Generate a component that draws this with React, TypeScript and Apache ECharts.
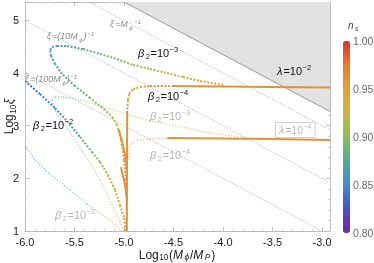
import React, { useEffect, useRef } from "react";
import * as echarts from "echarts";

const FONT = '"Liberation Sans", Arial, Helvetica, sans-serif';

// axes
const xMin = -6;
const xMax = -2.92;
const yMin = 1;
const yMax = 5.35;
const nsMin = 0.8;
const nsMax = 1.0;
const nsTickLabels = ["1.00", "0.95", "0.90", "0.85", "0.80"];
const nsColors = ["#782b8f", "#4750c8", "#4689c6", "#55aa9c", "#8cbd5c", "#c4b946", "#dea43c", "#e67b34", "#d9302b"];

// curves: [log10(Mφ/MP), log10 ξ, n_s]
// λ = 10^-2 family
const beta3Lam2 = [
  [-4.97, 1.684, 0.963], [-4.98, 1.969, 0.96], [-5.0, 2.349, 0.955], [-5.03, 2.728, 0.945],
  [-5.071, 3.013, 0.932], [-5.111, 3.146, 0.915], [-5.192, 3.298, 0.9], [-5.343, 3.526, 0.89],
  [-5.495, 3.754, 0.88], [-5.626, 3.982, 0.872], [-5.697, 4.172, 0.865], [-5.737, 4.324, 0.86],
  [-5.747, 4.438, 0.857], [-5.727, 4.495, 0.858], [-5.677, 4.514, 0.861], [-5.576, 4.514, 0.866],
  [-5.414, 4.457, 0.875], [-5.242, 4.362, 0.886], [-5.071, 4.267, 0.897], [-4.909, 4.153, 0.907],
  [-4.737, 4.077, 0.917], [-4.566, 4.001, 0.928], [-4.404, 3.925, 0.94], [-4.232, 3.849, 0.95],
  [-4.0, 3.773, 0.957],
];
const beta4Lam2 = [
  [-4.97, 3.241, 0.958], [-4.96, 3.488, 0.958], [-4.949, 3.602, 0.957], [-4.909, 3.697, 0.956],
  [-4.838, 3.735, 0.956], [-4.737, 3.754, 0.955], [-4.505, 3.754, 0.957],
];
const beta2Lam2 = [
  [-6.0, 3.849, 0.838], [-5.848, 3.602, 0.845], [-5.697, 3.336, 0.855], [-5.576, 3.089, 0.866],
  [-5.444, 2.785, 0.878], [-5.323, 2.5, 0.892], [-5.242, 2.311, 0.902], [-5.162, 2.064, 0.913],
  [-5.091, 1.779, 0.928], [-5.04, 1.494, 0.943], [-5.0, 1.247, 0.953], [-4.98, 1.0, 0.96],
];
const plateauLam2 = [
  [-4.505, 3.754, 0.958], [-4.0, 3.745, 0.96], [-3.525, 3.735, 0.961], [-2.919, 3.726, 0.962],
];
// λ = 10^-4 family
const beta3Lam4 = [
  [-5.0, 1.0, 0.96], [-5.04, 1.171, 0.95], [-5.121, 1.494, 0.935], [-5.242, 1.969, 0.92],
  [-5.394, 2.443, 0.9], [-5.545, 2.88, 0.885], [-5.626, 3.07, 0.875], [-5.697, 3.298, 0.87],
  [-5.727, 3.488, 0.865], [-5.697, 3.545, 0.868], [-5.616, 3.545, 0.872], [-5.444, 3.488, 0.885],
  [-5.242, 3.374, 0.9], [-5.04, 3.26, 0.91], [-4.838, 3.146, 0.92], [-4.636, 3.051, 0.93],
  [-4.364, 2.956, 0.94], [-4.131, 2.861, 0.95], [-3.828, 2.785, 0.957], [-3.525, 2.747, 0.96],
];
const beta2Lam4 = [
  [-6.0, 2.614, 0.84], [-5.899, 2.349, 0.845], [-5.747, 2.083, 0.855], [-5.545, 1.779, 0.87],
  [-5.374, 1.513, 0.885], [-5.242, 1.342, 0.9], [-5.121, 1.171, 0.92], [-5.02, 1.0, 0.94],
];
const beta4Lam4 = [
  [-4.949, 2.349, 0.955], [-4.949, 2.576, 0.955], [-4.929, 2.671, 0.955], [-4.869, 2.719, 0.956],
  [-4.737, 2.747, 0.957], [-4.556, 2.766, 0.958],
];
const plateauLam4 = [
  [-4.556, 2.766, 0.958], [-4.0, 2.757, 0.96], [-3.525, 2.747, 0.961], [-2.919, 2.728, 0.962],
];
const stemMain = [[-4.968, 3.26, 0.96], [-4.97, 2.3, 0.961], [-4.972, 1.0, 0.962]];
const stemBranchA = [[-5.051, 2.918, 0.958], [-5.01, 2.633, 0.959], [-4.98, 2.349, 0.96], [-4.97, 2.064, 0.961]];
const stemBranchB = [[-5.03, 2.197, 0.958], [-4.99, 1.874, 0.96], [-4.97, 1.589, 0.961]];

// ξ = 10^k / Mφ reference lines
const xiM = [[-5.35, 5.35], [-2.92, 2.92]];
const xi10M = [[-6, 5], [-2.92, 1.92]];
const xi100M = [[-6, 4], [-3, 1]];
// λ = 10^-2 excluded-region boundary
const lambdaBoundary = [[-5.0, 5.35], [-2.92, 3.27]];

function toSegments(curve: number[][]) {
  const out: number[][] = [];
  for (let i = 0; i < curve.length - 1; i++) {
    const a = curve[i];
    const b = curve[i + 1];
    out.push([a[0], a[1], b[0], b[1], (a[2] + b[2]) / 2]);
  }
  return out;
}

function curveSeries(curves: number[][][], width: number, dash: number[] | null, opacity: number, z: number) {
  const data: number[][] = [];
  curves.forEach((c) => toSegments(c).forEach((s) => data.push(s)));
  return {
    type: "custom",
    coordinateSystem: "cartesian2d",
    dimensions: ["x1", "y1", "x2", "y2", "ns"],
    encode: { x: [0, 2], y: [1, 3] },
    data,
    clip: true,
    silent: true,
    z,
    renderItem: (_p: any, api: any) => {
      const p1 = api.coord([api.value(0), api.value(1)]);
      const p2 = api.coord([api.value(2), api.value(3)]);
      return {
        type: "line",
        shape: { x1: p1[0], y1: p1[1], x2: p2[0], y2: p2[1] },
        style: {
          stroke: api.visual("color"),
          lineWidth: width,
          lineDash: dash || undefined,
          opacity,
          lineCap: dash ? "butt" : "round",
        },
      };
    },
  };
}

function refLine(data: number[][]) {
  return {
    type: "line",
    data,
    symbol: "none",
    silent: true,
    z: 2,
    lineStyle: { color: "#ababab", width: 0.8, type: [1.5, 1.5] },
  };
}

function richStyles(size: number, fill: string, italicAll = false, lhFactor = 1.35) {
  const lh = Math.round(size * lhFactor);
  const small = Math.round(size * 0.68 * 10) / 10;
  const st = italicAll ? "italic" : "normal";
  return {
    n: { fontSize: size, fontFamily: FONT, fill, color: fill, fontStyle: st, lineHeight: lh },
    i: { fontSize: size, fontFamily: FONT, fill, color: fill, fontStyle: "italic", lineHeight: lh, padding: [0, 1, 0, 0] },
    sb: { fontSize: small, fontFamily: FONT, fill, color: fill, fontStyle: st, lineHeight: small + 1, verticalAlign: "bottom", padding: [0, 0.5, 0, 0.5] },
    sbi: { fontSize: small, fontFamily: FONT, fill, color: fill, fontStyle: "italic", lineHeight: small + 1, verticalAlign: "bottom", padding: [0, 1, 0, 0.5] },
    sp: { fontSize: small, fontFamily: FONT, fill, color: fill, fontStyle: st, lineHeight: small + 1, verticalAlign: "top", padding: [0, 0, 0, 0.5] },
  };
}

function txt(text: string, x: number, y: number, size: number, fill: string, italicAll = false, extra: any = {}, align = "left", rotation = 0, lhFactor = 1.35) {
  return {
    type: "text",
    x,
    y,
    rotation,
    z: 100,
    silent: true,
    style: {
      text,
      fill,
      fontSize: size,
      fontFamily: FONT,
      lineHeight: Math.round(size * lhFactor),
      align,
      verticalAlign: "middle",
      textAlign: align,
      textVerticalAlign: "middle",
      rich: richStyles(size, fill, italicAll, lhFactor),
      ...extra,
    },
  };
}

const beta = (e: string) => `{i|β}{sb|2}{n|=10}{sp|−${e}}`;

export default function App() {
  const ref = useRef<HTMLDivElement>(null);
  useEffect(() => {
    if (!ref.current) return;
    const chart = echarts.init(ref.current, null, { renderer: "svg" });
    const frame = "#bdbdbd";
    const xLabel = (v: number) => (Math.abs(v * 2 - Math.round(v * 2)) < 1e-6 && v <= -3 + 1e-9 ? v.toFixed(1) : "");
    const yLabel = (v: number) => (Math.abs(v - Math.round(v)) < 1e-6 && v <= 5 ? String(Math.round(v)) : "");
    const baseX = {
      type: "value",
      min: xMin,
      max: xMax,
      interval: 0.5,
      axisLine: { show: true, lineStyle: { color: frame, width: 1 } },
      axisTick: { show: true, inside: true, length: 4, lineStyle: { color: frame } },
      minorTick: { show: true, splitNumber: 5, length: 2, lineStyle: { color: "#cfcfcf" } },
      splitLine: { show: false },
    };
    const baseY = {
      type: "value",
      min: yMin,
      max: yMax,
      interval: 1,
      axisLine: { show: true, lineStyle: { color: frame, width: 1 } },
      axisTick: { show: true, inside: true, length: 4, lineStyle: { color: frame } },
      minorTick: { show: true, splitNumber: 5, length: 2, lineStyle: { color: "#cfcfcf" } },
      splitLine: { show: false },
    };
    const option: any = {
      animation: false,
      grid: { left: 25, right: 44, top: 2, bottom: 32, containLabel: false },
      xAxis: [
        {
          ...baseX,
          position: "bottom",
          axisLabel: { formatter: xLabel, color: "#222", fontSize: 11, lineHeight: 12, fontFamily: FONT, margin: 5 },
        },
        { ...baseX, position: "top", axisLabel: { show: false } },
      ],
      yAxis: [
        {
          ...baseY,
          position: "left",
          axisLabel: { formatter: yLabel, color: "#222", fontSize: 11, lineHeight: 11, fontFamily: FONT, margin: 6 },
        },
        { ...baseY, position: "right", axisLabel: { show: false } },
      ],
      visualMap: {
        type: "continuous",
        min: nsMin,
        max: nsMax,
        dimension: 4,
        seriesIndex: [4, 5, 6],
        inRange: { color: nsColors },
        calculable: false,
        show: true,
        orient: "vertical",
        left: 343,
        top: 41,
        padding: 0,
        itemWidth: 7,
        itemHeight: 192,
        text: null,
        hoverLink: false,
      },
      series: [
        {
          type: "line",
          data: lambdaBoundary,
          symbol: "none",
          silent: true,
          z: 1,
          lineStyle: { color: "#9a9a9a", width: 1 },
          areaStyle: { color: "#e2e2e2", opacity: 1, origin: "end" },
        },
        refLine(xiM),
        refLine(xi10M),
        refLine(xi100M),
        curveSeries([beta3Lam4, beta2Lam4, beta4Lam4], 1.4, [1.3, 1.7], 0.55, 3),
        curveSeries([beta3Lam2, beta2Lam2, beta4Lam2], 2, [2, 1.6], 1, 4),
        curveSeries([plateauLam2, plateauLam4, stemMain, stemBranchA, stemBranchB], 2, null, 1, 5),
      ],
      graphic: [
        txt("{i|ξ}{n|=}{i|M}{sbi|ϕ}{sp|−1}", 110, 24, 9, "#8c8c8c", true),
        txt("{i|ξ}{n|=(10}{i|M}{sbi|ϕ}{n|)}{sp|−1}", 47, 36, 9, "#8c8c8c", true),
        txt("{i|ξ}{n|=(100}{i|M}{sbi|ϕ}{n|)}{sp|−1}", 25, 79, 9, "#8c8c8c", true),
        txt(beta("3"), 138, 53, 11, "#111"),
        txt(beta("4"), 148, 96, 11, "#111"),
        txt(beta("2"), 33, 125, 11, "#111"),
        txt("{i|λ}{n|=10}{sp|−2}", 277, 71, 11, "#111"),
        txt(beta("3"), 150, 116, 11, "#b5b5b5"),
        txt(beta("4"), 150, 155, 11, "#b5b5b5"),
        txt(beta("2"), 55, 215, 11, "#b5b5b5"),
        txt("{i|λ}{n|=10}{sp|−4}", 276, 130, 10.5, "#b5b5b5", false, {
          backgroundColor: "#ffffff",
          borderColor: "#d0d0d0",
          borderWidth: 1,
          padding: [0, 3, 0, 3],
        }),
        txt("{n|Log}{sb|10}{n|(}{i|M}{sbi|ϕ}{n|/}{i|M}{sbi|P}{n|)}", 177, 255, 12, "#222", false, {}, "center", 0, 1.1),
        txt("{n|Log}{sb|10}{i|ξ}", 9, 116, 12, "#222", false, {}, "center", Math.PI / 2),
        txt("{i|n}{sbi|s}", 348, 25, 10, "#444", true),
        ...nsTickLabels.map((t, k) => txt(`{n|${t}}`, 353, 41 + k * 48, 10.5, "#666")),
      ],
    };
    chart.setOption(option);
    return () => chart.dispose();
  }, []);
  return <div ref={ref} style={{ position: "fixed", left: 0, top: 0, width: 374, height: 263 }} />;
}
